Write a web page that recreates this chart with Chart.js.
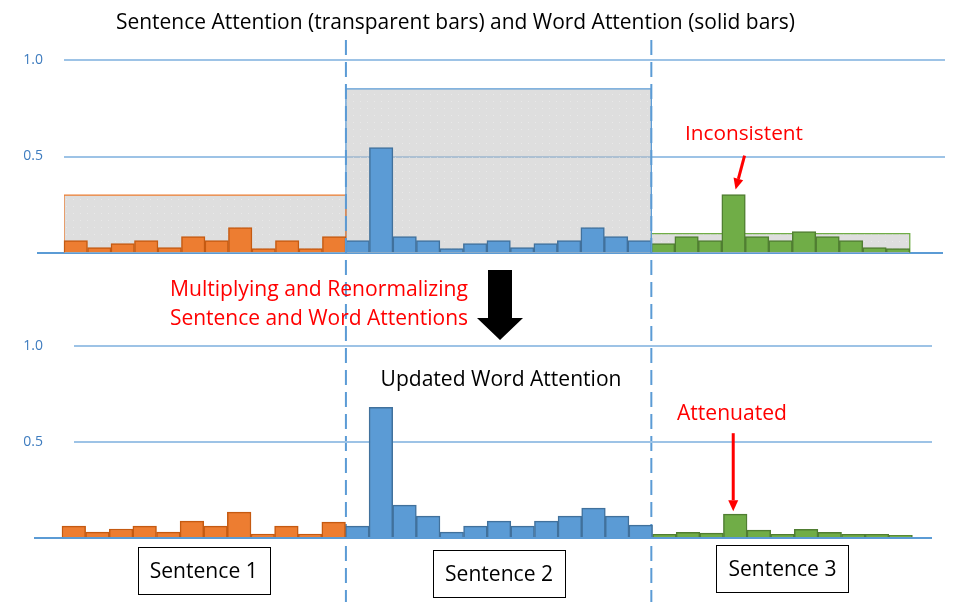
<!DOCTYPE html>
<html><head><meta charset="utf-8">
<script src="https://cdn.jsdelivr.net/npm/chart.js@4"></script>
<style>
html,body{margin:0;padding:0;background:#fff;}
#wrap{position:relative;width:960px;height:605px;}
canvas{position:absolute;left:0;top:0;}
</style></head><body>
<div id="wrap"><canvas id="cTop" width="960" height="605"></canvas><canvas id="cBot" width="960" height="605"></canvas></div>
<script>
// ---------------- DATA ----------------
const sentenceLabels = ['Sentence 1', 'Sentence 2', 'Sentence 3'];
const sentenceAttention = [0.30, 0.85, 0.10];
const wordAttentionS1 = [0.064, 0.028, 0.049, 0.064, 0.028, 0.085, 0.064, 0.132, 0.023, 0.064, 0.023, 0.085];
const wordAttentionS2 = [0.064, 0.546, 0.085, 0.064, 0.023, 0.049, 0.064, 0.028, 0.049, 0.064, 0.132, 0.085, 0.064];
const wordAttentionS3 = [0.049, 0.085, 0.064, 0.303, 0.085, 0.064, 0.111, 0.085, 0.064, 0.028, 0.023];
const updatedAttentionS1 = [0.062, 0.031, 0.047, 0.062, 0.031, 0.088, 0.062, 0.135, 0.021, 0.062, 0.021, 0.083];
const updatedAttentionS2 = [0.062, 0.680, 0.171, 0.114, 0.031, 0.062, 0.088, 0.062, 0.088, 0.114, 0.156, 0.114, 0.067];
const updatedAttentionS3 = [0.019, 0.030, 0.025, 0.124, 0.041, 0.019, 0.045, 0.030, 0.019, 0.019, 0.014];
const yTickValues = [0.5, 1.0];
const topTitle = 'Sentence Attention (transparent bars) and Word Attention (solid bars)';
const bottomTitle = 'Updated Word Attention';
const noteInconsistent = 'Inconsistent';
const noteAttenuated = 'Attenuated';
const noteProcess = ['Multiplying and Renormalizing', 'Sentence and Word Attentions'];

// ---------------- STYLE ----------------
const FONT = '"Open Sans", "Noto Sans", sans-serif';
const colors = [
  {fill: '#ed7d31', stroke: '#c55a11'},
  {fill: '#5b9bd5', stroke: '#41719c'},
  {fill: '#70ad47', stroke: '#507e32'}
];
const gridColor = '#9dc3e6';
const axisBlue = '#5b9bd5';
const tickColor = '#3e7cbf';

function makePattern() {
  const c = document.createElement('canvas');
  c.width = 7; c.height = 7;
  const g = c.getContext('2d');
  g.fillStyle = 'rgba(189,189,189,0.5)';
  g.fillRect(0, 0, 7, 7);
  g.fillStyle = 'rgba(255,255,255,0.35)';
  g.fillRect(3, 3, 1, 1);
  return g.createPattern(c, 'repeat');
}

const topGroups = [wordAttentionS1, wordAttentionS2, wordAttentionS3];
const botGroups = [updatedAttentionS1, updatedAttentionS2, updatedAttentionS3];
const groupStarts = [];
{ let o = 0; topGroups.forEach(g => { groupStarts.push(o); o += g.length; }); groupStarts.push(o); }

function wordDatasets(groups) {
  return groups.map((vals, s) => ({
    type: 'bar',
    data: vals.map((v, i) => ({x: groupStarts[s] + i, y: v})),
    backgroundColor: colors[s].fill,
    borderColor: colors[s].stroke,
    borderWidth: 1.5,
    barPercentage: 1,
    categoryPercentage: 1,
    grouped: false,
    clip: false,
    order: 1
  }));
}

function sentenceDatasets() {
  const pat = makePattern();
  return sentenceAttention.map((v, s) => {
    const a = groupStarts[s] - 0.5, b = groupStarts[s + 1] - 0.5;
    return {
      type: 'line',
      data: [{x: a, y: 0}, {x: a, y: v}, {x: b, y: v}, {x: b, y: 0}],
      borderColor: colors[s].fill,
      borderWidth: 1.3,
      backgroundColor: pat,
      fill: 'origin',
      pointRadius: 0,
      tension: 0,
      order: 5
    };
  });
}

function yScale(tickPad, axisWidth) {
  return {
    min: 0, max: 1,
    afterFit: s => { s.width = axisWidth; },
    afterBuildTicks: s => { s.ticks = [0, ...yTickValues].map(v => ({value: v})); },
    ticks: {
      padding: tickPad,
      color: tickColor,
      font: {family: FONT, size: 14},
      callback: v => v === 0 ? '' : v.toFixed(1)
    },
    grid: {
      color: c => (c.tick && c.tick.value === 0) ? 'rgba(0,0,0,0)' : gridColor,
      lineWidth: 2,
      drawTicks: false
    },
    border: {display: false}
  };
}

// draw text; if targetW given, the font size is adjusted so the text spans that width
function text(ctx, str, x, y, color, size, align, targetW) {
  ctx.save();
  ctx.font = size + 'px ' + FONT;
  if (targetW) {
    const w = ctx.measureText(str).width;
    size = size * targetW / w;
    ctx.font = size.toFixed(2) + 'px ' + FONT;
  }
  ctx.fillStyle = color;
  ctx.textAlign = align || 'left';
  ctx.textBaseline = 'middle';
  ctx.fillText(str, x, y);
  ctx.restore();
}

function arrow(ctx, x1, y1, x2, y2, color, w, headL, headW) {
  const ang = Math.atan2(y2 - y1, x2 - x1);
  const bx = x2 - headL * Math.cos(ang), by = y2 - headL * Math.sin(ang);
  ctx.save();
  ctx.strokeStyle = color; ctx.fillStyle = color; ctx.lineWidth = w;
  ctx.beginPath(); ctx.moveTo(x1, y1); ctx.lineTo(bx, by); ctx.stroke();
  ctx.beginPath();
  ctx.moveTo(x2, y2);
  ctx.lineTo(bx + headW / 2 * Math.sin(ang), by - headW / 2 * Math.cos(ang));
  ctx.lineTo(bx - headW / 2 * Math.sin(ang), by + headW / 2 * Math.cos(ang));
  ctx.closePath(); ctx.fill();
  ctx.restore();
}

function baseline(chart, extL, extR) {
  const {ctx, chartArea, scales} = chart;
  const y = scales.y.getPixelForValue(0);
  ctx.save();
  ctx.strokeStyle = axisBlue; ctx.lineWidth = 2;
  ctx.beginPath(); ctx.moveTo(chartArea.left - extL, y); ctx.lineTo(chartArea.right - extR, y); ctx.stroke();
  ctx.restore();
}

const topDeco = {
  id: 'topDeco',
  beforeDatasetsDraw(chart) { baseline(chart, 27, 2); },
  afterDraw(chart) {
    const {ctx, scales} = chart;
    const xs = scales.x, ys = scales.y;
    // sentence boundaries
    ctx.save();
    ctx.strokeStyle = axisBlue; ctx.lineWidth = 2; ctx.setLineDash([15, 7]);
    [1, 2].forEach(k => {
      const x = xs.getPixelForValue(groupStarts[k] - 0.5);
      ctx.beginPath(); ctx.moveTo(x, 40); ctx.lineTo(x, 602); ctx.stroke();
    });
    ctx.restore();
    text(ctx, topTitle, 455.5, 23, '#000', 18, 'center', 679);
    // Inconsistent
    const s3 = wordAttentionS3;
    const peak = s3.indexOf(Math.max(...s3));
    const bx = xs.getPixelForValue(groupStarts[2] + peak);
    const by = ys.getPixelForValue(s3[peak]);
    text(ctx, noteInconsistent, 685, 134, '#ff0000', 18, 'left', 118);
    arrow(ctx, bx + 11, by - 39, bx + 2, by - 5, '#ff0000', 3, 11, 10);
    // process text
    text(ctx, noteProcess[0], 170, 290, '#ff0000', 18, 'left', 298);
    text(ctx, noteProcess[1], 170, 319, '#ff0000', 18, 'left', 298);
    // black block arrow
    ctx.save();
    ctx.fillStyle = '#000';
    ctx.beginPath();
    ctx.moveTo(488, 270); ctx.lineTo(512, 270); ctx.lineTo(512, 318); ctx.lineTo(523, 318);
    ctx.lineTo(500, 340); ctx.lineTo(477, 318); ctx.lineTo(488, 318); ctx.closePath(); ctx.fill();
    ctx.restore();
  }
};

const botDeco = {
  id: 'botDeco',
  beforeDatasetsDraw(chart) { baseline(chart, 40, 0); },
  afterDraw(chart) {
    const {ctx, scales} = chart;
    const xs = scales.x, ys = scales.y;
    text(ctx, bottomTitle, 501, 380, '#000', 18, 'center', 241);
    const s3 = updatedAttentionS3;
    const peak = s3.indexOf(Math.max(...s3));
    const bx = xs.getPixelForValue(groupStarts[2] + peak);
    const by = ys.getPixelForValue(s3[peak]);
    text(ctx, noteAttenuated, 677, 414, '#ff0000', 18, 'left', 110);
    arrow(ctx, bx - 2, by - 81, bx - 2, by - 3, '#ff0000', 3, 11, 10);
    // sentence boxes
    const tops = [547, 550, 545];
    sentenceLabels.forEach((lab, s) => {
      const cx = (xs.getPixelForValue(groupStarts[s] - 0.5) + xs.getPixelForValue(groupStarts[s + 1] - 0.5)) / 2;
      const w = 132, h = 47, t = tops[s];
      ctx.save();
      ctx.fillStyle = '#fff'; ctx.fillRect(cx - w / 2, t, w, h);
      ctx.strokeStyle = '#000'; ctx.lineWidth = 1;
      ctx.strokeRect(Math.round(cx - w / 2) + 0.5, t + 0.5, w, h);
      ctx.restore();
      text(ctx, lab, cx, t + h / 2 + 1, '#000', 18, 'center', 108);
    });
  }
};

const common = {
  responsive: false,
  animation: false,
  events: [],
  plugins: {legend: {display: false}, tooltip: {enabled: false}, title: {display: false}}
};

new Chart(document.getElementById('cTop'), {
  type: 'bar',
  data: {datasets: [...wordDatasets(topGroups), ...sentenceDatasets()]},
  options: Object.assign({}, common, {
    layout: {padding: {left: 0, right: 15, top: 60, bottom: 352}},
    scales: {
      x: {type: 'linear', min: -0.5, max: 37, offset: false, display: false},
      y: yScale(21, 64)
    }
  }),
  plugins: [topDeco]
});

new Chart(document.getElementById('cBot'), {
  type: 'bar',
  data: {datasets: wordDatasets(botGroups)},
  options: Object.assign({}, common, {
    layout: {padding: {left: 0, right: 28, top: 346, bottom: 67}},
    scales: {
      x: {type: 'linear', min: 0.008, max: 36.33, offset: false, display: false},
      y: yScale(31, 74)
    }
  }),
  plugins: [botDeco]
});
</script>
</body></html>
